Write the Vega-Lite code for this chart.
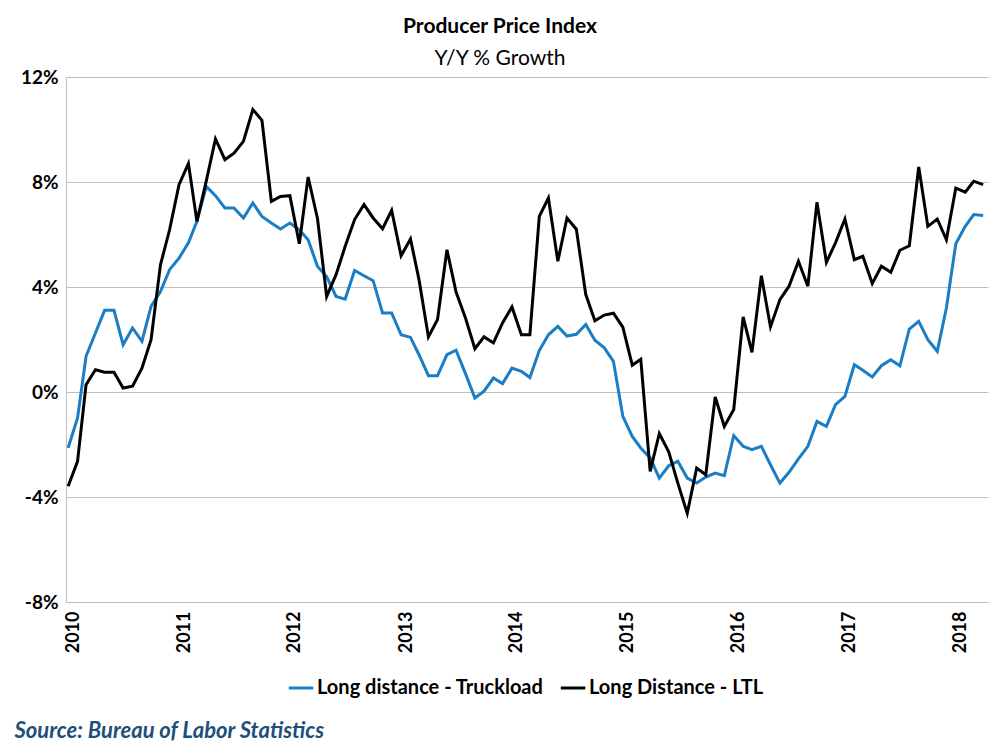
{
  "$schema": "https://vega.github.io/schema/vega-lite/v6.json",
  "width": 922,
  "height": 525,
  "autosize": {"type": "none"},
  "padding": {"left": 66, "top": 77, "right": 12, "bottom": 153},
  "background": "white",
  "config": {"font": "Lato", "view": {"stroke": null}},
  "title": {
    "text": "Producer Price Index",
    "subtitle": "Y/Y % Growth",
    "font": "Lato",
    "fontSize": 21,
    "fontWeight": "bold",
    "color": "black",
    "subtitleFont": "Lato",
    "subtitleFontSize": 21,
    "subtitleColor": "black",
    "anchor": "middle",
    "frame": "group",
    "dx": -27,
    "dy": 9,
    "offset": 8,
    "subtitlePadding": 11
  },
  "data": {
    "values": [
      {"date": "2010-01-01", "TL": -2.13, "LTL": -3.59},
      {"date": "2010-02-01", "TL": -0.99, "LTL": -2.64},
      {"date": "2010-03-01", "TL": 1.36, "LTL": 0.28},
      {"date": "2010-04-01", "TL": 2.25, "LTL": 0.85},
      {"date": "2010-05-01", "TL": 3.11, "LTL": 0.75},
      {"date": "2010-06-01", "TL": 3.11, "LTL": 0.75},
      {"date": "2010-07-01", "TL": 1.80, "LTL": 0.15},
      {"date": "2010-08-01", "TL": 2.44, "LTL": 0.22},
      {"date": "2010-09-01", "TL": 1.93, "LTL": 0.91},
      {"date": "2010-10-01", "TL": 3.26, "LTL": 1.99},
      {"date": "2010-11-01", "TL": 3.83, "LTL": 4.85},
      {"date": "2010-12-01", "TL": 4.66, "LTL": 6.18},
      {"date": "2011-01-01", "TL": 5.10, "LTL": 7.90},
      {"date": "2011-02-01", "TL": 5.68, "LTL": 8.70},
      {"date": "2011-03-01", "TL": 6.50, "LTL": 6.50},
      {"date": "2011-04-01", "TL": 7.83, "LTL": 8.05},
      {"date": "2011-05-01", "TL": 7.48, "LTL": 9.64},
      {"date": "2011-06-01", "TL": 7.01, "LTL": 8.85},
      {"date": "2011-07-01", "TL": 7.01, "LTL": 9.10},
      {"date": "2011-08-01", "TL": 6.63, "LTL": 9.55},
      {"date": "2011-09-01", "TL": 7.20, "LTL": 10.76},
      {"date": "2011-10-01", "TL": 6.69, "LTL": 10.35},
      {"date": "2011-11-01", "TL": 6.44, "LTL": 7.26},
      {"date": "2011-12-01", "TL": 6.21, "LTL": 7.45},
      {"date": "2012-01-01", "TL": 6.44, "LTL": 7.48},
      {"date": "2012-02-01", "TL": 6.18, "LTL": 5.65},
      {"date": "2012-03-01", "TL": 5.80, "LTL": 8.19},
      {"date": "2012-04-01", "TL": 4.78, "LTL": 6.60},
      {"date": "2012-05-01", "TL": 4.40, "LTL": 3.64},
      {"date": "2012-06-01", "TL": 3.64, "LTL": 4.47},
      {"date": "2012-07-01", "TL": 3.54, "LTL": 5.55},
      {"date": "2012-08-01", "TL": 4.63, "LTL": 6.57},
      {"date": "2012-09-01", "TL": 4.43, "LTL": 7.14},
      {"date": "2012-10-01", "TL": 4.24, "LTL": 6.63},
      {"date": "2012-11-01", "TL": 3.01, "LTL": 6.22},
      {"date": "2012-12-01", "TL": 3.01, "LTL": 6.92},
      {"date": "2013-01-01", "TL": 2.18, "LTL": 5.19},
      {"date": "2013-02-01", "TL": 2.08, "LTL": 5.83},
      {"date": "2013-03-01", "TL": 1.42, "LTL": 4.28},
      {"date": "2013-04-01", "TL": 0.62, "LTL": 2.10},
      {"date": "2013-05-01", "TL": 0.62, "LTL": 2.76},
      {"date": "2013-06-01", "TL": 1.42, "LTL": 5.42},
      {"date": "2013-07-01", "TL": 1.59, "LTL": 3.81},
      {"date": "2013-08-01", "TL": 0.70, "LTL": 2.82},
      {"date": "2013-09-01", "TL": -0.23, "LTL": 1.65},
      {"date": "2013-10-01", "TL": 0.03, "LTL": 2.10},
      {"date": "2013-11-01", "TL": 0.53, "LTL": 1.87},
      {"date": "2013-12-01", "TL": 0.32, "LTL": 2.63},
      {"date": "2014-01-01", "TL": 0.91, "LTL": 3.24},
      {"date": "2014-02-01", "TL": 0.79, "LTL": 2.18},
      {"date": "2014-03-01", "TL": 0.55, "LTL": 2.18},
      {"date": "2014-04-01", "TL": 1.58, "LTL": 6.69},
      {"date": "2014-05-01", "TL": 2.18, "LTL": 7.39},
      {"date": "2014-06-01", "TL": 2.50, "LTL": 4.98},
      {"date": "2014-07-01", "TL": 2.13, "LTL": 6.63},
      {"date": "2014-08-01", "TL": 2.20, "LTL": 6.20},
      {"date": "2014-09-01", "TL": 2.57, "LTL": 3.71},
      {"date": "2014-10-01", "TL": 1.97, "LTL": 2.71},
      {"date": "2014-11-01", "TL": 1.68, "LTL": 2.93},
      {"date": "2014-12-01", "TL": 1.17, "LTL": 3.00},
      {"date": "2015-01-01", "TL": -0.93, "LTL": 2.47},
      {"date": "2015-02-01", "TL": -1.69, "LTL": 1.02},
      {"date": "2015-03-01", "TL": -2.13, "LTL": 1.25},
      {"date": "2015-04-01", "TL": -2.51, "LTL": -3.02},
      {"date": "2015-05-01", "TL": -3.28, "LTL": -1.58},
      {"date": "2015-06-01", "TL": -2.81, "LTL": -2.28},
      {"date": "2015-07-01", "TL": -2.64, "LTL": -3.47},
      {"date": "2015-08-01", "TL": -3.28, "LTL": -4.62},
      {"date": "2015-09-01", "TL": -3.47, "LTL": -2.90},
      {"date": "2015-10-01", "TL": -3.24, "LTL": -3.15},
      {"date": "2015-11-01", "TL": -3.09, "LTL": -0.19},
      {"date": "2015-12-01", "TL": -3.19, "LTL": -1.31},
      {"date": "2016-01-01", "TL": -1.66, "LTL": -0.67},
      {"date": "2016-02-01", "TL": -2.07, "LTL": 2.86},
      {"date": "2016-03-01", "TL": -2.20, "LTL": 1.51},
      {"date": "2016-04-01", "TL": -2.07, "LTL": 4.43},
      {"date": "2016-05-01", "TL": -2.77, "LTL": 2.48},
      {"date": "2016-06-01", "TL": -3.47, "LTL": 3.52},
      {"date": "2016-07-01", "TL": -3.06, "LTL": 4.03},
      {"date": "2016-08-01", "TL": -2.55, "LTL": 4.98},
      {"date": "2016-09-01", "TL": -2.07, "LTL": 4.03},
      {"date": "2016-10-01", "TL": -1.12, "LTL": 7.23},
      {"date": "2016-11-01", "TL": -1.31, "LTL": 4.94},
      {"date": "2016-12-01", "TL": -0.48, "LTL": 5.68},
      {"date": "2017-01-01", "TL": -0.17, "LTL": 6.59},
      {"date": "2017-02-01", "TL": 1.04, "LTL": 5.04},
      {"date": "2017-03-01", "TL": 0.83, "LTL": 5.17},
      {"date": "2017-04-01", "TL": 0.57, "LTL": 4.13},
      {"date": "2017-05-01", "TL": 1.00, "LTL": 4.79},
      {"date": "2017-06-01", "TL": 1.23, "LTL": 4.56},
      {"date": "2017-07-01", "TL": 1.00, "LTL": 5.40},
      {"date": "2017-08-01", "TL": 2.40, "LTL": 5.57},
      {"date": "2017-09-01", "TL": 2.69, "LTL": 8.57},
      {"date": "2017-10-01", "TL": 1.99, "LTL": 6.31},
      {"date": "2017-11-01", "TL": 1.55, "LTL": 6.59},
      {"date": "2017-12-01", "TL": 3.20, "LTL": 5.80},
      {"date": "2018-01-01", "TL": 5.65, "LTL": 7.77},
      {"date": "2018-02-01", "TL": 6.31, "LTL": 7.61},
      {"date": "2018-03-01", "TL": 6.76, "LTL": 8.03},
      {"date": "2018-04-01", "TL": 6.72, "LTL": 7.90}
    ]
  },
  "transform": [{"fold": ["TL", "LTL"], "as": ["series", "value"]}],
  "mark": {"type": "line", "strokeWidth": 3, "strokeJoin": "miter"},
  "encoding": {
    "x": {
      "field": "date",
      "type": "temporal",
      "scale": {
        "type": "utc",
        "domain": [
          {"year": 2009, "month": 12, "date": 25, "utc": true},
          {"year": 2018, "month": 4, "date": 17, "utc": true}
        ]
      },
      "axis": {
        "title": "Source: Bureau of Labor Statistics",
        "titleFont": "Lato",
        "titleFontStyle": "italic",
        "titleFontWeight": "bold",
        "titleColor": "#1f4e79",
        "titleFontSize": 22,
        "titleAnchor": "start",
        "titleAlign": "left",
        "titleBaseline": "middle",
        "titleX": -52,
        "titleY": 128,
        "tickCount": {"interval": "year", "step": 1},
        "format": "%Y",
        "labelAngle": 270,
        "labelAlign": "right",
        "labelBaseline": "middle",
        "labelFont": "Lato",
        "labelFontWeight": "bold",
        "labelFontSize": 18,
        "labelColor": "black",
        "labelPadding": 9,
        "labelOffset": 5,
        "ticks": false,
        "grid": false,
        "domainColor": "#bfbfbf",
        "domainWidth": 1
      }
    },
    "y": {
      "field": "value",
      "type": "quantitative",
      "scale": {"domain": [-8, 12], "nice": false, "zero": false},
      "axis": {
        "title": null,
        "values": [-8, -4, 0, 4, 8, 12],
        "labelExpr": "datum.value + '%'",
        "labelFont": "Lato",
        "labelFontWeight": "bold",
        "labelFontSize": 19,
        "labelColor": "black",
        "labelPadding": 8,
        "ticks": false,
        "domainColor": "#bfbfbf",
        "gridColor": "#bfbfbf",
        "gridWidth": 1
      }
    },
    "color": {
      "field": "series",
      "type": "nominal",
      "scale": {"domain": ["TL", "LTL"], "range": ["#1a7dc5", "#000000"]},
      "legend": {
        "title": null,
        "orient": "none",
        "direction": "horizontal",
        "legendX": 221,
        "legendY": 597,
        "padding": 0,
        "symbolType": "stroke",
        "symbolStrokeWidth": 3,
        "symbolSize": 600,
        "labelFont": "Lato",
        "labelFontSize": 20,
        "labelFontWeight": "bold",
        "labelColor": "black",
        "labelOffset": 2,
        "labelLimit": 0,
        "columnPadding": 10,
        "labelExpr": "datum.label == 'TL' ? 'Long distance - Truckload' : 'Long Distance - LTL'"
      }
    }
  }
}
